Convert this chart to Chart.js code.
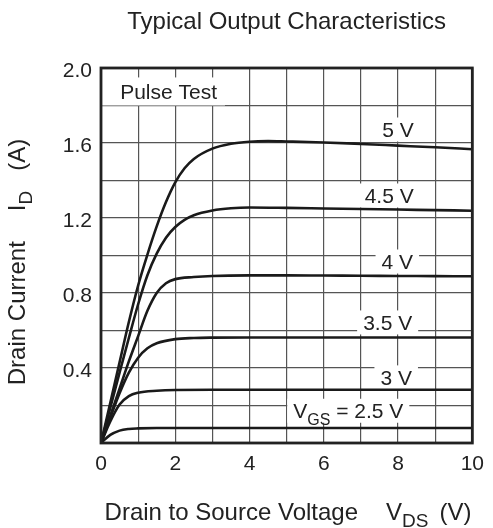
<!DOCTYPE html>
<html><head><meta charset="utf-8">
<script src="https://cdn.jsdelivr.net/npm/chart.js@4"></script>
<style>html,body{margin:0;padding:0;background:#fff}#wrap{width:493px;height:528px}</style>
</head><body><div id="wrap"><canvas id="c" width="493" height="528"></canvas></div>
<script>
const FONT = '"Liberation Sans", Arial, Helvetica, sans-serif';
const chartTitle = 'Typical Output Characteristics';
const xTickLabels = [0, 2, 4, 6, 8, 10];
const yTickLabels = [0.4, 0.8, 1.2, 1.6, 2.0];

const vds_5V  = [0, 0.5, 0.75, 1, 1.25, 1.5, 1.75, 2, 2.25, 2.5, 3, 3.5, 4, 4.5, 5, 6, 7, 8, 9, 10];
const id_5V   = [0, 0.43, 0.645, 0.84, 1.005, 1.155, 1.285, 1.39, 1.465, 1.515, 1.57, 1.596, 1.607, 1.61, 1.608, 1.603, 1.595, 1.586, 1.577, 1.567];
const vds_45V = [0, 0.5, 0.75, 1, 1.25, 1.5, 1.75, 2, 2.25, 2.5, 3, 3.5, 4, 5, 6, 7, 8, 9, 10];
const id_45V  = [0, 0.375, 0.56, 0.74, 0.895, 1.01, 1.095, 1.152, 1.19, 1.215, 1.24, 1.252, 1.256, 1.254, 1.251, 1.248, 1.245, 1.242, 1.239];
const vds_4V  = [0, 0.5, 0.75, 1, 1.25, 1.5, 1.75, 2, 2.5, 3, 4, 5, 6, 7, 8, 9, 10];
const id_4V   = [0, 0.29, 0.435, 0.57, 0.705, 0.8, 0.852, 0.874, 0.885, 0.891, 0.894, 0.894, 0.893, 0.892, 0.891, 0.89, 0.889];
const vds_35V = [0, 0.25, 0.5, 0.75, 1, 1.25, 1.5, 2, 2.5, 3, 4, 6, 8, 10];
const id_35V  = [0, 0.135, 0.265, 0.375, 0.455, 0.505, 0.532, 0.554, 0.56, 0.562, 0.563, 0.563, 0.563, 0.563];
const vds_3V  = [0, 0.25, 0.5, 0.75, 1, 1.5, 2, 3, 4, 6, 8, 10];
const id_3V   = [0, 0.115, 0.205, 0.25, 0.268, 0.279, 0.283, 0.284, 0.284, 0.284, 0.284, 0.284];
const vds_25V = [0, 0.25, 0.5, 0.75, 1, 1.5, 2, 4, 6, 8, 10];
const id_25V  = [0, 0.043, 0.066, 0.075, 0.078, 0.08, 0.08, 0.08, 0.08, 0.08, 0.08];

const seriesNames = ['5 V', '4.5 V', '4 V', '3.5 V', '3 V', 'VGS = 2.5 V'];
const seriesX = [vds_5V, vds_45V, vds_4V, vds_35V, vds_3V, vds_25V];
const seriesY = [id_5V, id_45V, id_4V, id_35V, id_3V, id_25V];

// in-plot text labels, anchored at data coordinates
const plotLabels = [
  { parts: [['Pulse Test', 0]], x: 1.82, y: 1.875, boxLeft: true },
  { parts: [['5 V', 0]], x: 8.0, y: 1.672 },
  { parts: [['4.5 V', 0]], x: 7.76, y: 1.32 },
  { parts: [['4 V', 0]], x: 7.98, y: 0.968 },
  { parts: [['3.5 V', 0]], x: 7.72, y: 0.643 },
  { parts: [['3 V', 0]], x: 7.95, y: 0.35 },
  { parts: [['V', 0], ['GS', 1], [' = 2.5 V', 0]], x: 6.66, y: 0.172 }
];

function partsWidth(ctx, parts, size) {
  let w = 0;
  for (const [t, sub] of parts) {
    if (typeof t === 'number') { w += t; continue; }
    ctx.font = (sub ? Math.round(size * 0.78) : size) + 'px ' + FONT;
    w += ctx.measureText(t).width;
  }
  return w;
}
function drawParts(ctx, parts, x, baseline, size) {
  for (const [t, sub] of parts) {
    if (typeof t === 'number') { x += t; continue; }
    ctx.font = (sub ? Math.round(size * 0.78) : size) + 'px ' + FONT;
    ctx.fillText(t, x, baseline + (sub ? size * 0.3 : 0));
    x += ctx.measureText(t).width;
  }
}

const textPlugin = {
  id: 'texts',
  beforeDatasetsDraw(chart) {
    const ctx = chart.ctx, xs = chart.scales.x, ys = chart.scales.y, a = chart.chartArea;
    const size = 21;
    ctx.save();
    ctx.textBaseline = 'alphabetic';
    for (const lab of plotLabels) {
      const cx = xs.getPixelForValue(lab.x), cy = ys.getPixelForValue(lab.y);
      const w = partsWidth(ctx, lab.parts, size);
      const left = cx - w / 2;
      ctx.fillStyle = '#fff';
      if (lab.boxLeft) ctx.fillRect(a.left, cy - 14, (left + w + 8) - a.left, 28);
      else ctx.fillRect(left - 6, cy - 12, w + 12, 24);
      ctx.fillStyle = '#222';
      drawParts(ctx, lab.parts, left, cy + 7.5, size);
    }
    ctx.restore();
  },
  afterDatasetsDraw(chart) {
    const ctx = chart.ctx, a = chart.chartArea;
    ctx.save();
    ctx.strokeStyle = '#222';
    ctx.lineWidth = 2.8;
    ctx.strokeRect(a.left, a.top, a.right - a.left, a.bottom - a.top);
    ctx.restore();
  },
  afterDraw(chart) {
    const ctx = chart.ctx, a = chart.chartArea;
    ctx.save();
    ctx.fillStyle = '#222';
    ctx.textBaseline = 'alphabetic';
    // chart title
    ctx.font = '24px ' + FONT;
    ctx.textAlign = 'center';
    ctx.fillText(chartTitle, (a.left + a.right) / 2, 29);
    ctx.textAlign = 'left';
    // x axis title
    const ts = 24;
    const xParts = [['Drain to Source Voltage', 0], [28, 0], ['V', 0], ['DS', 1], [11, 0], ['(V)', 0]];
    const xw = partsWidth(ctx, xParts, ts);
    drawParts(ctx, xParts, 288 - xw / 2, 520, ts);
    // y axis title (rotated)
    const yParts = [['Drain Current', 0], [30, 0], ['I', 0], ['D', 1], [20, 0], ['(A)', 0]];
    const yw = partsWidth(ctx, yParts, ts);
    ctx.translate(25, 262);
    ctx.rotate(-Math.PI / 2);
    drawParts(ctx, yParts, -yw / 2, 0, ts);
    ctx.restore();
  }
};

const datasets = seriesNames.map((name, i) => ({
  label: name,
  data: seriesX[i].map((x, j) => ({ x: x, y: seriesY[i][j] })),
  borderColor: '#1a1a1a',
  borderWidth: 2.6,
  pointRadius: 0,
  fill: false,
  cubicInterpolationMode: 'monotone'
}));

new Chart(document.getElementById('c'), {
  type: 'line',
  data: { datasets },
  options: {
    responsive: false,
    animation: false,
    devicePixelRatio: 1,
    layout: { padding: { top: 68, right: 18, left: 0, bottom: 0 } },
    plugins: { legend: { display: false }, title: { display: false }, tooltip: { enabled: false } },
    scales: {
      x: {
        type: 'linear', min: 0, max: 10,
        afterFit(s) { s.height = 85; },
        grid: { color: '#555', lineWidth: 1.2, drawTicks: false },
        border: { display: false },
        ticks: {
          stepSize: 1, autoSkip: false, maxRotation: 0, padding: 9,
          color: '#222', font: { family: FONT, size: 21 },
          callback: (v) => xTickLabels.includes(v) ? String(v) : ''
        }
      },
      y: {
        type: 'linear', min: 0, max: 2,
        afterFit(s) { s.width = 101; },
        grid: { color: '#555', lineWidth: 1.2, drawTicks: false },
        border: { display: false },
        ticks: {
          stepSize: 0.2, autoSkip: false, padding: 9, labelOffset: 3,
          color: '#222', font: { family: FONT, size: 21 },
          callback: (v) => yTickLabels.some(t => Math.abs(t - v) < 1e-6) ? v.toFixed(1) : ''
        }
      }
    }
  },
  plugins: [textPlugin]
});
</script></body></html>
